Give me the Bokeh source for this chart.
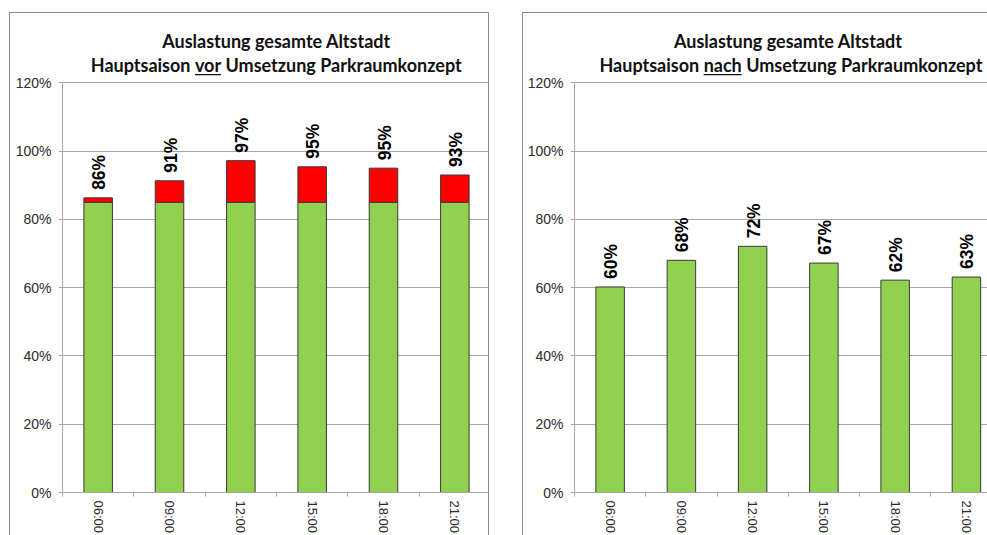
import math
from bokeh.plotting import figure
from bokeh.models import FixedTicker, Range1d, NumeralTickFormatter
from bokeh.layouts import row
from bokeh.core.properties import value
from bokeh.embed import file_html
from bokeh.resources import INLINE

# ---------------- data ----------------
zeiten = ["06:00", "09:00", "12:00", "15:00", "18:00", "21:00"]
grenze_pct = [85, 85, 85, 85, 85, 85]                       # green part (capacity limit)
auslastung_vor_pct = [86.3, 91.3, 97.2, 95.4, 95.0, 93.0]    # total occupancy before
auslastung_nach_pct = [60.2, 68.0, 72.1, 67.2, 62.2, 63.1]   # total occupancy after
y_ticks_pct = [0, 20, 40, 60, 80, 100, 120]
titel_zeile1 = "Auslastung gesamte Altstadt"
titel_vor = ["Hauptsaison", "vor", "Umsetzung Parkraumkonzept"]
titel_nach = ["Hauptsaison", "nach", "Umsetzung Parkraumkonzept"]

# ---------------- style ----------------
GREEN = "#92D050"
RED = "#FF0000"
BAR_LINE = "#3a3a3a"
GRID = "#a6a6a6"
AXIS = "#a6a6a6"
BORDER = "#8c8c8c"
TICK_FONT = "Liberation Sans"
TITLE_FONT = "Lato"

FIG_H = 523
Y_TOP = 1.403


def make_chart(totals_pct, green_pct, title_parts, width, x_end, border_left,
               left_margin, kw_center, kw_w, right_border):
    n = len(zeiten)
    xs = [i + 0.5 for i in range(n)]
    totals = [v / 100 for v in totals_pct]

    styles = {"border-left": f"1px solid {BORDER}",
              "border-top": f"1px solid {BORDER}"}
    if right_border:
        styles["border-right"] = f"1px solid {BORDER}"

    p = figure(width=width, height=FIG_H, output_backend="svg", toolbar_location=None,
               x_range=Range1d(0, x_end), y_range=Range1d(0, Y_TOP),
               min_border_left=border_left, min_border_right=0,
               min_border_top=0, min_border_bottom=40,
               margin=(12, 0, 0, left_margin), styles=styles)
    p.outline_line_color = None
    p.background_fill_color = "white"
    p.border_fill_color = "white"

    # y axis
    yt = [t / 100 for t in y_ticks_pct]
    p.yaxis.ticker = FixedTicker(ticks=yt)
    p.yaxis.formatter = NumeralTickFormatter(format="0%")
    p.yaxis.bounds = (0, yt[-1])
    p.yaxis.axis_line_color = AXIS
    p.yaxis.major_tick_line_color = AXIS
    p.yaxis.major_tick_out = 4
    p.yaxis.major_tick_in = 0
    p.yaxis.minor_tick_line_color = None
    p.yaxis.major_label_standoff = 7
    p.yaxis.major_label_text_font = TICK_FONT
    p.yaxis.major_label_text_font_size = "14px"
    p.yaxis.major_label_text_color = "#2b2b2b"

    # x axis: labels at bar centres, ticks at category borders
    p.xaxis.ticker = FixedTicker(ticks=xs, minor_ticks=list(range(n + 1)))
    p.xaxis.major_label_overrides = {x: z for x, z in zip(xs, zeiten)}
    p.xaxis.major_label_orientation = "vertical"
    p.xaxis.axis_line_color = AXIS
    p.xaxis.major_tick_line_color = None
    p.xaxis.minor_tick_line_color = AXIS
    p.xaxis.minor_tick_out = 4
    p.xaxis.minor_tick_in = 0
    p.xaxis.major_label_standoff = 2
    p.xaxis.major_label_text_font = TICK_FONT
    p.xaxis.major_label_text_font_size = "13px"
    p.xaxis.major_label_text_color = "#2b2b2b"

    p.xgrid.grid_line_color = None
    p.ygrid.ticker = FixedTicker(ticks=yt[1:])
    p.ygrid.grid_line_color = GRID
    p.ygrid.grid_line_width = 1

    # bars
    if green_pct is not None:
        green = [g / 100 for g in green_pct]
        p.vbar(x=xs, bottom=0, top=green, width=0.4, fill_color=GREEN,
               line_color=BAR_LINE, line_width=1)
        p.vbar(x=xs, bottom=green, top=totals, width=0.4, fill_color=RED,
               line_color=BAR_LINE, line_width=1)
    else:
        p.vbar(x=xs, bottom=0, top=totals, width=0.4, fill_color=GREEN,
               line_color=BAR_LINE, line_width=1)

    # value labels
    labels = [f"{v:.0f}%" for v in totals_pct]
    p.text(x=xs, y=totals, text=labels, angle=math.pi / 2,
           text_align="left", text_baseline="middle", y_offset=-8, x_offset=1,
           text_font=value(TICK_FONT), text_font_style="bold",
           text_font_size="17.5px", text_color="#000000")

    # title (two lines, key word underlined)
    tkw = dict(text_font=value(TITLE_FONT), text_font_style="bold",
               text_font_size="18px", text_color="#111111", text_baseline="alphabetic")
    p.text(x=[3.0], y=[1.3225], text=[titel_zeile1], text_align="center", **tkw)
    y2 = 1.253
    gap = 4.5
    p.text(x=[kw_center], y=[y2], text=[title_parts[0]], text_align="right",
           x_offset=-(kw_w / 2 + gap), **tkw)
    p.text(x=[kw_center], y=[y2], text=[title_parts[1]], text_align="center", **tkw)
    p.text(x=[kw_center], y=[y2], text=[title_parts[2]], text_align="left",
           x_offset=(kw_w / 2 + gap), **tkw)
    px_per_unit = (width - border_left) / x_end
    hw = kw_w / 2 / px_per_unit
    p.segment(x0=[kw_center - hw], x1=[kw_center + hw],
              y0=[y2 - 0.029], y1=[y2 - 0.029], line_color="#111111", line_width=1.3)
    return p


p1 = make_chart(auslastung_vor_pct, grenze_pct, titel_vor, width=480, x_end=6.0,
                border_left=52, left_margin=9, kw_center=2.04, kw_w=26, right_border=True)
p2 = make_chart(auslastung_nach_pct, None, titel_nach, width=465, x_end=5.81,
                border_left=51, left_margin=33, kw_center=2.08, kw_w=38, right_border=False)

layout = row(p1, p2)
open("out.html", "w").write(file_html(layout, INLINE))
